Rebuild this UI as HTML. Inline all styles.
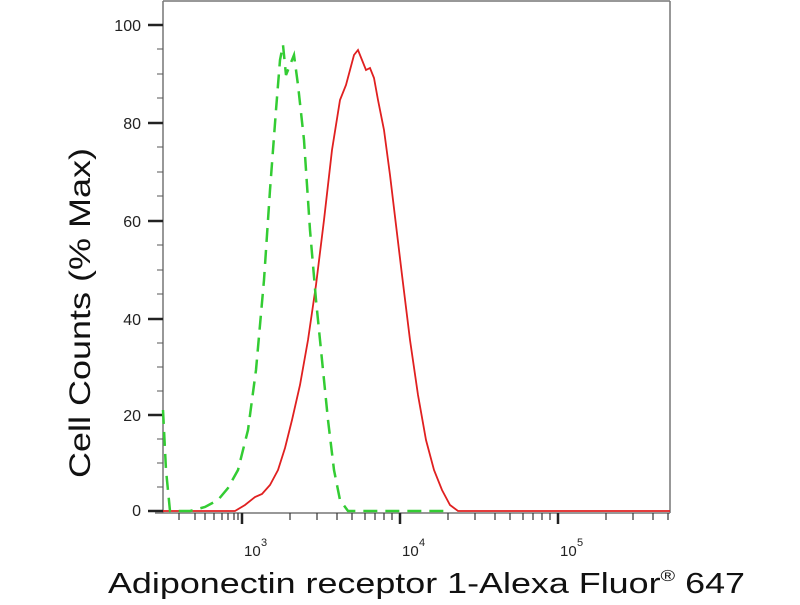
<!DOCTYPE html>
<html><head><style>body{margin:0;background:#fff}</style></head><body>
<svg width="800" height="600" xmlns="http://www.w3.org/2000/svg" font-family="Liberation Sans, sans-serif">
<rect width="800" height="600" fill="#fff"/>
<g stroke="#777" fill="none" stroke-width="1.5">
<line x1="163" y1="1" x2="670" y2="1"/>
<line x1="670" y1="1" x2="670" y2="513"/>
<line x1="163" y1="1" x2="163" y2="513"/>
<line x1="155" y1="513" x2="670" y2="513"/>
</g>
<g stroke="#222" stroke-width="2.5">
<line x1="148" y1="25" x2="163" y2="25"/><line x1="148" y1="123" x2="163" y2="123"/>
<line x1="148" y1="221" x2="163" y2="221"/><line x1="148" y1="319" x2="163" y2="319"/>
<line x1="148" y1="415" x2="163" y2="415"/><line x1="148" y1="511" x2="163" y2="511"/>
</g>
<g stroke="#555" stroke-width="1">
<line x1="157" y1="49" x2="163" y2="49"/><line x1="157" y1="74" x2="163" y2="74"/><line x1="157" y1="98" x2="163" y2="98"/>
<line x1="157" y1="147" x2="163" y2="147"/><line x1="157" y1="172" x2="163" y2="172"/><line x1="157" y1="196" x2="163" y2="196"/>
<line x1="157" y1="245" x2="163" y2="245"/><line x1="157" y1="270" x2="163" y2="270"/><line x1="157" y1="294" x2="163" y2="294"/>
<line x1="157" y1="343" x2="163" y2="343"/><line x1="157" y1="367" x2="163" y2="367"/><line x1="157" y1="391" x2="163" y2="391"/>
<line x1="157" y1="439" x2="163" y2="439"/><line x1="157" y1="463" x2="163" y2="463"/><line x1="157" y1="487" x2="163" y2="487"/>
</g>
<g font-size="16" fill="#222" text-anchor="end">
<text x="141" y="31">100</text><text x="141" y="129">80</text><text x="141" y="227">60</text>
<text x="141" y="325">40</text><text x="141" y="421">20</text><text x="141" y="516">0</text>
</g>
<g stroke="#222" stroke-width="2.5">
<line x1="242" y1="513" x2="242" y2="524"/><line x1="400" y1="513" x2="400" y2="524"/><line x1="558" y1="513" x2="558" y2="524"/>
</g>
<g stroke="#333" stroke-width="1.2">
<line x1="179" y1="513" x2="179" y2="520"/><line x1="195" y1="513" x2="195" y2="520"/><line x1="205" y1="513" x2="205" y2="520"/>
<line x1="214" y1="513" x2="214" y2="520"/><line x1="222" y1="513" x2="222" y2="520"/><line x1="228" y1="513" x2="228" y2="520"/><line x1="234" y1="513" x2="234" y2="520"/><line x1="238" y1="513" x2="238" y2="520"/>
<line x1="290" y1="513" x2="290" y2="520"/><line x1="317" y1="513" x2="317" y2="520"/><line x1="337" y1="513" x2="337" y2="520"/>
<line x1="352" y1="513" x2="352" y2="520"/><line x1="365" y1="513" x2="365" y2="520"/><line x1="375" y1="513" x2="375" y2="520"/><line x1="384" y1="513" x2="384" y2="520"/><line x1="392" y1="513" x2="392" y2="520"/>
<line x1="448" y1="513" x2="448" y2="520"/><line x1="475" y1="513" x2="475" y2="520"/><line x1="495" y1="513" x2="495" y2="520"/>
<line x1="510" y1="513" x2="510" y2="520"/><line x1="523" y1="513" x2="523" y2="520"/><line x1="533" y1="513" x2="533" y2="520"/><line x1="542" y1="513" x2="542" y2="520"/><line x1="550" y1="513" x2="550" y2="520"/>
<line x1="606" y1="513" x2="606" y2="520"/><line x1="633" y1="513" x2="633" y2="520"/><line x1="653" y1="513" x2="653" y2="520"/><line x1="668" y1="513" x2="668" y2="520"/>
</g>
<g font-size="15" fill="#222">
<text x="244" y="556">10</text><text x="261" y="546" font-size="11">3</text>
<text x="402" y="556">10</text><text x="419" y="546" font-size="11">4</text>
<text x="560" y="556">10</text><text x="577" y="546" font-size="11">5</text>
</g>
<path d="M163,511 L235,511 L245,505 L255,497 L262,494 L270,485 L278,470 L285,448 L292,420 L300,385 L308,340 L316,285 L324,220 L332,150 L340,100 L346,85 L350,70 L354,55 L358,50 L362,60 L366,70 L370,68 L374,78 L378,100 L384,130 L390,175 L396,225 L402,275 L410,340 L418,395 L426,440 L434,470 L442,490 L450,505 L458,511 L670,511" fill="none" stroke="#e02020" stroke-width="1.8"/>
<path d="M163,410 L166,470 L170,511 L190,511 L205,507 L218,500 L228,488 L238,470 L248,430 L256,370 L264,280 L270,190 L276,110 L280,60 L283,45 L286,75 L290,65 L294,55 L298,85 L304,140 L310,230 L316,300 L322,360 L328,420 L334,470 L340,500 L348,511 L450,511" fill="none" stroke="#33cc33" stroke-width="2.5" stroke-dasharray="14,8"/>
<text x="90" y="313" font-size="30" fill="#111" text-anchor="middle" textLength="330" lengthAdjust="spacingAndGlyphs" transform="rotate(-90 90 313)">Cell Counts (% Max)</text>
<text x="108" y="593" font-size="29" fill="#111" textLength="637" lengthAdjust="spacingAndGlyphs">Adiponectin receptor 1-Alexa Fluor<tspan font-size="16" dy="-12">®</tspan><tspan dy="12"> 647</tspan></text>
</svg>
</body></html>
